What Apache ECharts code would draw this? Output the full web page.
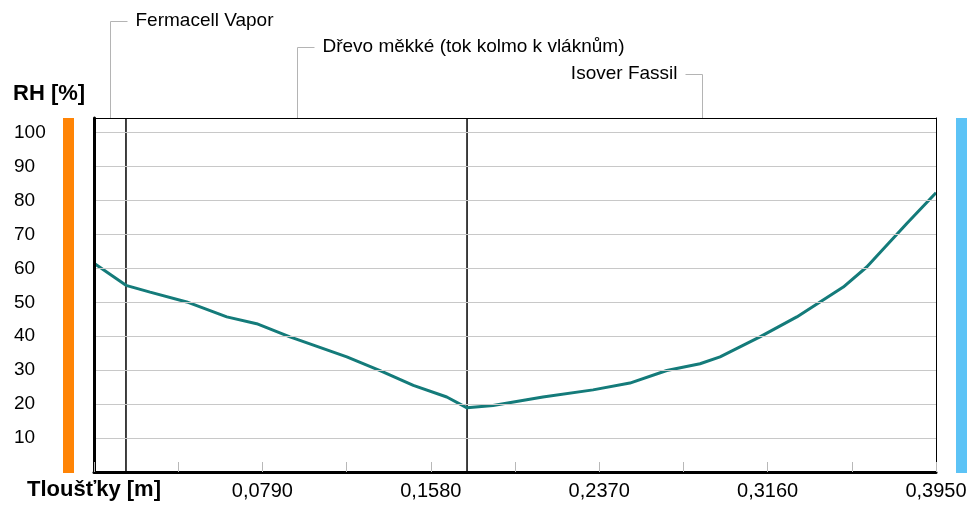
<!DOCTYPE html>
<html>
<head>
<meta charset="utf-8">
<script src="https://cdn.jsdelivr.net/npm/echarts@6/dist/echarts.min.js"></script>
<style>
  html, body { margin: 0; padding: 0; background: #fff; }
  #chart { width: 975px; height: 510px; }
</style>
</head>
<body>
<div id="chart"></div>
<script>
// tloušťka konstrukce [m] a relativní vlhkost [%]
const thickness = [0, 0.015, 0.0263, 0.0435, 0.0623, 0.0763, 0.0919, 0.0966, 0.1186, 0.1342, 0.1498, 0.1655, 0.175,
  0.1872, 0.2106, 0.2341, 0.2514, 0.2687, 0.2843, 0.2937, 0.3124, 0.3297, 0.3515, 0.3625, 0.3813, 0.395]
const rh = [61.5, 55.0, 53.0, 50.1, 45.7, 43.7, 39.8, 38.8, 33.9, 29.9, 25.5, 22.1, 18.9,
  19.6, 22.1, 24.2, 26.2, 29.9, 31.9, 33.9, 39.8, 45.7, 54.5, 60.4, 73.2, 82.3]

// vrstvy konstrukce
const layerNames = ['Fermacell Vapor', 'Dřevo měkké (tok kolmo k vláknům)', 'Isover Fassil']
const layerBounds = [0, 0.015, 0.175, 0.395]

const xMax = 0.395
const xTickStep = 0.0395
const yMax = 104.3
const yTickStep = 10

const font = '"Liberation Sans", Arial, sans-serif'
const curveColor = '#147b7a'

const chartDom = document.getElementById('chart')
const myChart = echarts.init(chartDom)

// rozhraní vrstev - svislé čáry přes celou výšku
const boundarySeries = layerBounds.slice(1, -1).map(b => ({
  type: 'line',
  data: [[b, 0], [b, yMax]],
  showSymbol: false,
  silent: true,
  lineStyle: { color: '#000', width: 1.5 },
  z: 2
}))

const option = {
  animation: false,
  backgroundColor: '#fff',
  grid: {
    left: 94,
    right: 39,
    top: 118,
    bottom: 38
  },
  xAxis: [
    {
      type: 'value',
      min: 0,
      max: xMax,
      interval: xTickStep,
      axisLine: { show: true, onZero: false, lineStyle: { color: '#000', width: 3 } },
      axisTick: { show: true, inside: true, length: 10, lineStyle: { color: '#b8b8b8', width: 1 } },
      splitLine: { show: false },
      axisLabel: {
        margin: 9,
        color: '#000',
        fontFamily: font,
        fontSize: 20,
        formatter: function (v) {
          const k = Math.round(v / xTickStep)
          if (k === 0 || k % 2 !== 0) return ''
          return v.toFixed(4).replace('.', ',')
        }
      },
      z: 5
    },
    {
      type: 'value',
      position: 'top',
      min: 0,
      max: xMax,
      axisLine: { show: true, onZero: false, lineStyle: { color: '#000', width: 1 } },
      axisTick: { show: false },
      axisLabel: { show: false },
      splitLine: { show: false },
      z: 5
    }
  ],
  yAxis: [
    {
      type: 'value',
      min: 0,
      max: yMax,
      interval: yTickStep,
      axisLine: { show: true, onZero: false, lineStyle: { color: '#000', width: 3 } },
      axisTick: { show: false },
      splitLine: { show: true, lineStyle: { color: '#c8c8c8', width: 1 } },
      axisLabel: {
        margin: 80,
        align: 'left',
        color: '#000',
        fontFamily: font,
        fontSize: 19,
        formatter: function (v) {
          const k = Math.round(v / yTickStep)
          if (k === 0 || Math.abs(v - k * yTickStep) > 1e-6) return ''
          return String(v)
        }
      },
      z: 5
    },
    {
      type: 'value',
      position: 'right',
      min: 0,
      max: yMax,
      axisLine: { show: true, onZero: false, lineStyle: { color: '#000', width: 1 } },
      axisTick: { show: false },
      axisLabel: { show: false },
      splitLine: { show: false },
      z: 5
    }
  ],
  series: [
    {
      type: 'line',
      data: thickness.map((t, i) => [t, rh[i]]),
      showSymbol: false,
      smooth: false,
      lineStyle: { color: curveColor, width: 3 },
      z: 3
    }
  ].concat(boundarySeries)
}

myChart.setOption(option)

// popisky vrstev s odkazovými čarami + barevné pruhy (vnitřní/vnější prostředí)
function buildGraphic () {
  const topLeft = myChart.convertToPixel({ gridIndex: 0 }, [0, yMax])
  const botRight = myChart.convertToPixel({ gridIndex: 0 }, [xMax, 0])
  const gridTop = topLeft[1]
  const gridBottom = botRight[1]
  const rowY = [21, 47, 74]
  const sides = [1, 1, -1]
  const items = []

  layerNames.forEach((name, i) => {
    const mid = (layerBounds[i] + layerBounds[i + 1]) / 2
    const px = Math.round(myChart.convertToPixel({ gridIndex: 0 }, [mid, 0])[0]) + 0.5
    const dir = sides[i]
    items.push({
      type: 'polyline',
      shape: { points: [[px, gridTop], [px, rowY[i] + 0.5], [px + dir * 17, rowY[i] + 0.5]] },
      style: { stroke: '#b4b4b4', lineWidth: 1, fill: null },
      silent: true
    })
    items.push({
      type: 'text',
      x: px + dir * 25,
      y: rowY[i],
      style: {
        text: name,
        fill: '#000',
        font: '19px ' + font,
        align: dir > 0 ? 'left' : 'right',
        verticalAlign: 'middle'
      },
      silent: true
    })
  })

  items.push({
    type: 'rect',
    shape: { x: 63, y: gridTop, width: 11, height: gridBottom - gridTop + 1 },
    style: { fill: '#ff8405' },
    silent: true
  })
  items.push({
    type: 'rect',
    shape: { x: 956, y: gridTop, width: 11, height: gridBottom - gridTop + 1 },
    style: { fill: '#5cc3f6' },
    silent: true
  })
  items.push({
    type: 'text',
    x: 13,
    y: 94,
    style: { text: 'RH [%]', fill: '#000', font: 'bold 22px ' + font, verticalAlign: 'middle' },
    silent: true
  })
  items.push({
    type: 'text',
    x: 27,
    y: 490,
    style: { text: 'Tloušťky [m]', fill: '#000', font: 'bold 22px ' + font, verticalAlign: 'middle' },
    silent: true
  })
  return items
}

myChart.setOption({ graphic: buildGraphic() })
</script>
</body>
</html>
